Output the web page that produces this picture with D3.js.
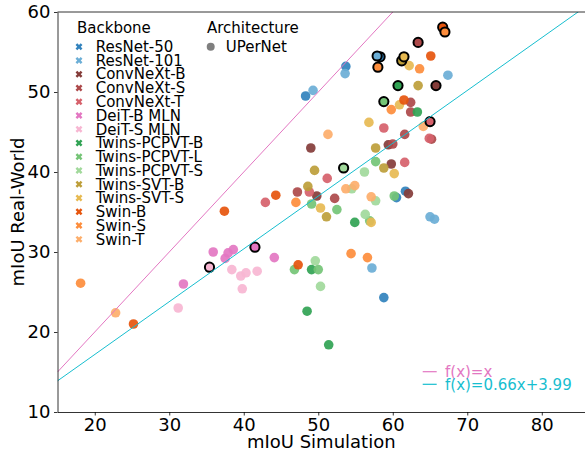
<!DOCTYPE html>
<html>
<head>
<meta charset="utf-8">
<script src="https://cdn.jsdelivr.net/npm/d3@7"></script>
<style>
  body { margin: 0; background: #fff; }
  svg { font-family: "DejaVu Sans", sans-serif; }
</style>
</head>
<body>
<div id="chart"></div>
<script>
// backbones in legend order, with their colours
var backbones = ["ResNet-50", "ResNet-101", "ConvNeXt-B", "ConvNeXt-S", "ConvNeXt-T",
    "DeiT-B MLN", "DeiT-S MLN", "Twins-PCPVT-B", "Twins-PCPVT-L", "Twins-PCPVT-S",
    "Twins-SVT-B", "Twins-SVT-S", "Swin-B", "Swin-S", "Swin-T"];
var backboneColors = ["#3182bd", "#6baed6", "#843c39", "#ad494a", "#d6616b",
    "#e377c2", "#f7b6d2", "#31a354", "#74c476", "#a1d99b",
    "#bd9e39", "#e7ba52", "#e6550d", "#fd8d3c", "#fdae6b"];

// [backbone, mIoU simulation, mIoU real-world]
var points = [
    ["ResNet-50", 48.3, 49.5], ["ResNet-50", 53.7, 53.2], ["ResNet-50", 58.8, 24.3],
    ["ResNet-50", 61.7, 37.6], ["ResNet-50", 60.5, 36.8],
    ["ResNet-101", 49.3, 50.2], ["ResNet-101", 53.6, 52.3], ["ResNet-101", 67.4, 52.1],
    ["ResNet-101", 65.0, 34.4], ["ResNet-101", 65.6, 34.1], ["ResNet-101", 57.2, 28.0],
    ["ConvNeXt-B", 49.0, 43.0], ["ConvNeXt-B", 49.8, 37.0], ["ConvNeXt-B", 59.4, 43.4],
    ["ConvNeXt-B", 59.8, 41.0], ["ConvNeXt-B", 62.1, 37.3],
    ["ConvNeXt-S", 47.2, 37.5], ["ConvNeXt-S", 52.2, 36.7], ["ConvNeXt-S", 60.0, 43.5],
    ["ConvNeXt-S", 61.6, 44.7], ["ConvNeXt-S", 62.4, 48.7], ["ConvNeXt-S", 62.4, 47.5],
    ["ConvNeXt-S", 65.2, 44.1],
    ["ConvNeXt-T", 42.9, 36.2], ["ConvNeXt-T", 48.8, 37.5], ["ConvNeXt-T", 51.2, 39.2],
    ["ConvNeXt-T", 58.8, 45.5], ["ConvNeXt-T", 61.6, 41.2], ["ConvNeXt-T", 64.9, 44.2],
    ["DeiT-B MLN", 31.9, 26.0], ["DeiT-B MLN", 35.9, 30.0], ["DeiT-B MLN", 37.5, 29.2],
    ["DeiT-B MLN", 37.9, 29.9], ["DeiT-B MLN", 38.6, 30.3], ["DeiT-B MLN", 44.1, 29.3],
    ["DeiT-S MLN", 31.2, 23.0], ["DeiT-S MLN", 38.4, 27.8], ["DeiT-S MLN", 39.6, 27.0],
    ["DeiT-S MLN", 40.3, 27.4], ["DeiT-S MLN", 41.8, 27.6], ["DeiT-S MLN", 39.8, 25.4],
    ["Twins-PCPVT-B", 48.5, 22.6], ["Twins-PCPVT-B", 51.4, 18.4], ["Twins-PCPVT-B", 49.1, 27.8],
    ["Twins-PCPVT-B", 54.9, 33.7], ["Twins-PCPVT-B", 63.3, 47.5],
    ["Twins-PCPVT-L", 46.8, 27.8], ["Twins-PCPVT-L", 50.0, 27.8], ["Twins-PCPVT-L", 49.1, 36.0],
    ["Twins-PCPVT-L", 52.5, 35.3], ["Twins-PCPVT-L", 56.9, 33.9], ["Twins-PCPVT-L", 57.7, 41.3],
    ["Twins-PCPVT-L", 60.2, 37.0],
    ["Twins-PCPVT-S", 49.6, 28.9], ["Twins-PCPVT-S", 50.3, 25.7], ["Twins-PCPVT-S", 54.5, 37.9],
    ["Twins-PCPVT-S", 56.2, 40.0], ["Twins-PCPVT-S", 56.3, 34.7], ["Twins-PCPVT-S", 57.7, 36.4],
    ["Twins-SVT-B", 48.6, 38.2], ["Twins-SVT-B", 49.5, 40.2], ["Twins-SVT-B", 51.1, 34.4],
    ["Twins-SVT-B", 57.7, 43.0], ["Twins-SVT-B", 58.8, 40.5], ["Twins-SVT-B", 63.4, 50.8],
    ["Twins-SVT-S", 50.3, 35.5], ["Twins-SVT-S", 56.8, 46.2], ["Twins-SVT-S", 57.1, 33.7],
    ["Twins-SVT-S", 60.2, 39.8], ["Twins-SVT-S", 60.9, 48.4], ["Twins-SVT-S", 62.2, 53.3],
    ["Swin-B", 25.2, 21.0], ["Swin-B", 37.4, 35.1], ["Swin-B", 44.3, 37.1],
    ["Swin-B", 47.3, 28.4], ["Swin-B", 61.5, 49.0], ["Swin-B", 65.1, 54.5],
    ["Swin-S", 18.1, 26.1], ["Swin-S", 47.0, 36.2], ["Swin-S", 54.4, 29.8],
    ["Swin-S", 56.6, 29.3], ["Swin-S", 59.8, 47.8], ["Swin-S", 63.6, 52.9],
    ["Swin-T", 22.8, 22.4], ["Swin-T", 51.3, 44.7], ["Swin-T", 53.7, 37.9],
    ["Swin-T", 54.9, 38.3], ["Swin-T", 57.1, 36.9], ["Swin-T", 64.1, 45.7]
];

// points drawn with a black outline, one per backbone
var outlined = [
    ["ResNet-50", 58.3, 54.4], ["ResNet-101", 57.9, 54.5], ["ConvNeXt-B", 65.8, 50.8],
    ["ConvNeXt-S", 63.4, 56.2], ["ConvNeXt-T", 65.0, 46.3], ["DeiT-B MLN", 41.5, 30.6],
    ["DeiT-S MLN", 35.4, 28.1], ["Twins-PCPVT-B", 60.7, 50.8], ["Twins-PCPVT-L", 58.8, 48.8],
    ["Twins-PCPVT-S", 53.4, 40.5], ["Twins-SVT-B", 61.2, 53.9], ["Twins-SVT-S", 61.5, 54.4],
    ["Swin-B", 66.7, 58.1], ["Swin-S", 58.0, 53.1], ["Swin-S", 67.0, 57.5]
];

var fits = [
    { label: "f(x)=x", slope: 1, intercept: 0, color: "#e377c2" },
    { label: "f(x)=0.66x+3.99", slope: 0.66, intercept: 3.99, color: "#17becf" }
];

var xTicks = [20, 30, 40, 50, 60, 70, 80];
var yTicks = [10, 20, 30, 40, 50, 60];

var width = 585, height = 456;
var plotLeft = 57.5, plotRight = 585, plotTop = 12, plotBottom = 412;

var svg = d3.select("#chart").append("svg")
    .attr("width", width)
    .attr("height", height);

var x = d3.scaleLinear().domain([15, 85.8]).range([plotLeft, plotRight]);
var y = d3.scaleLinear().domain([10, 60]).range([plotBottom, plotTop]);
var color = d3.scaleOrdinal().domain(backbones).range(backboneColors);

svg.append("clipPath").attr("id", "plot")
    .append("rect")
    .attr("x", plotLeft).attr("y", plotTop)
    .attr("width", plotRight - plotLeft).attr("height", plotBottom - plotTop);

// points
var plot = svg.append("g").attr("clip-path", "url(#plot)");

plot.selectAll("circle.pt")
    .data(points)
    .enter().append("circle")
    .attr("class", "pt")
    .attr("cx", function(d) { return x(d[1]); })
    .attr("cy", function(d) { return y(d[2]); })
    .attr("r", 4.8)
    .attr("fill", function(d) { return color(d[0]); })
    .attr("fill-opacity", 0.92);

plot.selectAll("circle.edge")
    .data(outlined)
    .enter().append("circle")
    .attr("class", "edge")
    .attr("cx", function(d) { return x(d[1]); })
    .attr("cy", function(d) { return y(d[2]); })
    .attr("r", 4.6)
    .attr("fill", function(d) { return color(d[0]); })
    .attr("stroke", "#000")
    .attr("stroke-width", 2);

// fit lines, on top of the points
plot.selectAll("line.fit")
    .data(fits)
    .enter().append("line")
    .attr("class", "fit")
    .attr("x1", x(15))
    .attr("y1", function(d) { return y(d.slope * 15 + d.intercept); })
    .attr("x2", x(85.8))
    .attr("y2", function(d) { return y(d.slope * 85.8 + d.intercept); })
    .attr("stroke", function(d) { return d.color; })
    .attr("stroke-width", 1);

// axes
var xAxis = svg.append("g")
    .attr("transform", "translate(0," + plotBottom + ")")
    .call(d3.axisBottom(x).tickValues(xTicks).tickSize(3.5).tickPadding(3).tickSizeOuter(0));
var yAxis = svg.append("g")
    .attr("transform", "translate(" + plotLeft + ",0)")
    .call(d3.axisLeft(y).tickValues(yTicks).tickSize(3.5).tickPadding(3.5).tickSizeOuter(0));

[xAxis, yAxis].forEach(function(a) {
    a.selectAll("text").attr("font-size", 18).attr("fill", "#000")
        .attr("font-family", "DejaVu Sans");
    a.selectAll("line").attr("stroke", "#000").attr("stroke-width", 0.8);
    a.select(".domain").attr("stroke", "#000").attr("stroke-width", 0.8);
});

svg.append("line")
    .attr("x1", plotLeft).attr("x2", plotRight)
    .attr("y1", plotTop).attr("y2", plotTop)
    .attr("stroke", "#000").attr("stroke-width", 0.8);

svg.append("text")
    .attr("x", (plotLeft + plotRight) / 2)
    .attr("y", 448)
    .attr("text-anchor", "middle")
    .attr("font-size", 18)
    .text("mIoU Simulation");

svg.append("text")
    .attr("transform", "translate(24," + ((plotTop + plotBottom) / 2) + ") rotate(-90)")
    .attr("text-anchor", "middle")
    .attr("font-size", 18)
    .text("mIoU Real-World");

// backbone legend
var legend = svg.append("g").attr("font-size", 15);
legend.append("text").attr("x", 77).attr("y", 28).attr("dy", "0.35em").text("Backbone");

var cross = d3.symbol().type(d3.symbolCross).size(30);
var rows = legend.selectAll("g.row")
    .data(backbones)
    .enter().append("g")
    .attr("class", "row")
    .attr("transform", function(d, i) { return "translate(0," + (46.7 + i * 13.76) + ")"; });
rows.append("path")
    .attr("d", cross)
    .attr("transform", "translate(79,0) rotate(45)")
    .attr("fill", function(d) { return color(d); });
rows.append("text")
    .attr("x", 95.7)
    .attr("dy", "0.35em")
    .text(function(d) { return d; });

// architecture legend
legend.append("text").attr("x", 207).attr("y", 28).attr("dy", "0.35em").text("Architecture");
legend.append("circle").attr("cx", 210.7).attr("cy", 46.7).attr("r", 4).attr("fill", "#7f7f7f");
legend.append("text").attr("x", 225.7).attr("y", 46.7).attr("dy", "0.35em").text("UPerNet");

// fit legend
var fitRows = svg.append("g").attr("font-size", 15)
    .selectAll("g")
    .data(fits)
    .enter().append("g")
    .attr("transform", function(d, i) { return "translate(0," + (371.7 + i * 12.6) + ")"; });
fitRows.append("line")
    .attr("x1", 422.7).attr("x2", 436.7)
    .attr("stroke", function(d) { return d.color; })
    .attr("stroke-width", 1.2);
fitRows.append("text")
    .attr("x", 445)
    .attr("dy", "0.35em")
    .attr("fill", function(d) { return d.color; })
    .text(function(d) { return d.label; });
</script>
</body>
</html>
